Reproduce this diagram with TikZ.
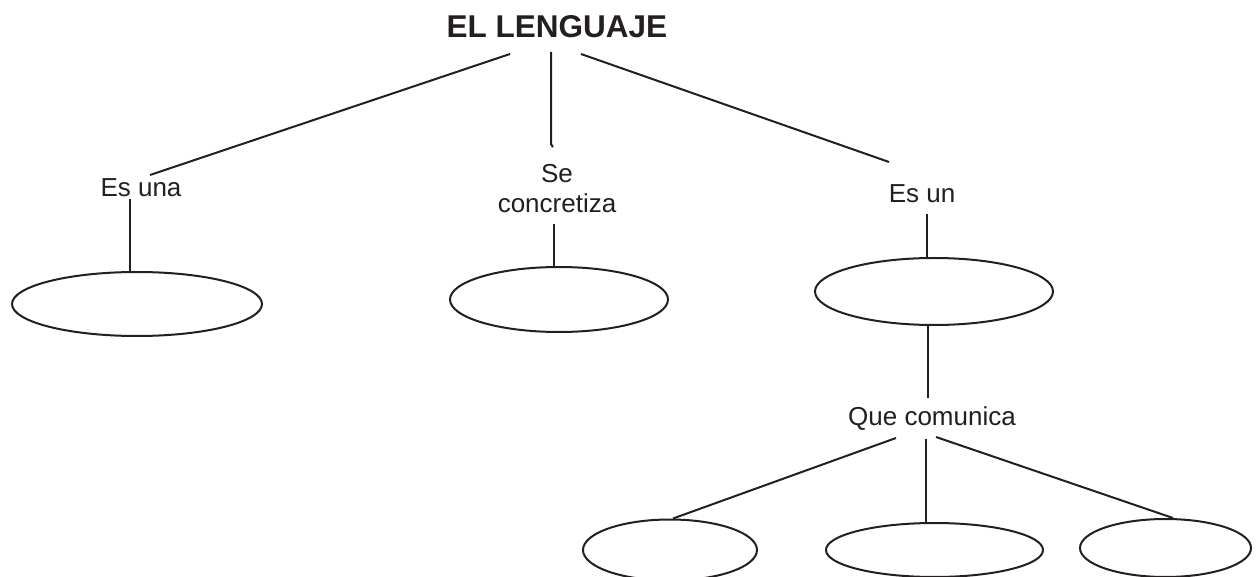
\documentclass[tikz,border=0pt]{standalone}
\usepackage{fontspec}
\setmainfont{Liberation Sans}
\usetikzlibrary{shapes.geometric}
\definecolor{ink}{HTML}{231F20}

\begin{document}
\begin{tikzpicture}[x=1pt, y=-1pt, every node/.style={inner sep=0pt, text=ink},
    lbl/.style={font=\fontsize{26}{30}\selectfont, align=center},
    oval/.style={draw=ink, ellipse, line width=2pt},
    link/.style={draw=ink, line width=2pt}]
  \useasboundingbox (0,0) rectangle (1259,577);

  \node (lenguaje) [anchor=base, font=\fontsize{31.5}{35}\selectfont\bfseries] at (557,38) {EL LENGUAJE};

  \node (esuna) [lbl, anchor=base] at (141,197) {Es una};
  \node (se) [lbl, anchor=north] at (557,164) {Se\\concretiza};
  \node (esun) [lbl, anchor=base] at (922,203) {Es un};
  \node (quecom) [lbl, anchor=base] at (932,425) {Que comunica};

  \node (una) [oval, minimum width=250pt, minimum height=64pt] at (137,304) {};
  \node (concr) [oval, minimum width=218pt, minimum height=65pt] at (559,299.5) {};
  \node (un) [oval, minimum width=238pt, minimum height=67pt] at (934,291.5) {};
  \node (com1) [oval, minimum width=174pt, minimum height=61pt] at (670,550) {};
  \node (com2) [oval, minimum width=217pt, minimum height=54pt] at (934.5,550) {};
  \node (com3) [oval, minimum width=171pt, minimum height=58pt] at (1165.5,548) {};

  % from the title
  \draw[link] ([xshift=-47pt,yshift=-16pt]lenguaje.base) -- ([xshift=9pt,yshift=22pt]esuna.base);
  \draw[link] ([xshift=-6pt,yshift=-14pt]lenguaje.base) -- ([xshift=-6pt,yshift=24pt]se.north)
    to[out=-90,in=160] ([xshift=-4pt,yshift=17pt]se.north);
  \draw[link] ([xshift=24pt,yshift=-16pt]lenguaje.base) -- ([xshift=-33pt,yshift=41pt]esun.base);

  % down to the ovals
  \draw[link] ([xshift=-11pt,yshift=-2pt]esuna.base) -- ([xshift=-7pt]una.north);
  \draw[link] ([xshift=-3pt,yshift=-11pt]se.south) -- ([xshift=-5pt]concr.north);
  \draw[link] ([xshift=5pt,yshift=-11pt]esun.base) -- ([xshift=-7pt]un.north);
  \draw[link] ([xshift=-6pt]un.south) -- ([xshift=-4pt,yshift=27pt]quecom.base);

  \draw[link] ([xshift=-36pt,yshift=-13pt]quecom.base) -- ([xshift=3pt]com1.north);
  \draw[link] ([xshift=-6pt,yshift=-14pt]quecom.base) -- ([xshift=-8.5pt]com2.north);
  \draw[link] ([xshift=4pt,yshift=-12pt]quecom.base) -- ([xshift=7.5pt]com3.north);
\end{tikzpicture}
\end{document}
